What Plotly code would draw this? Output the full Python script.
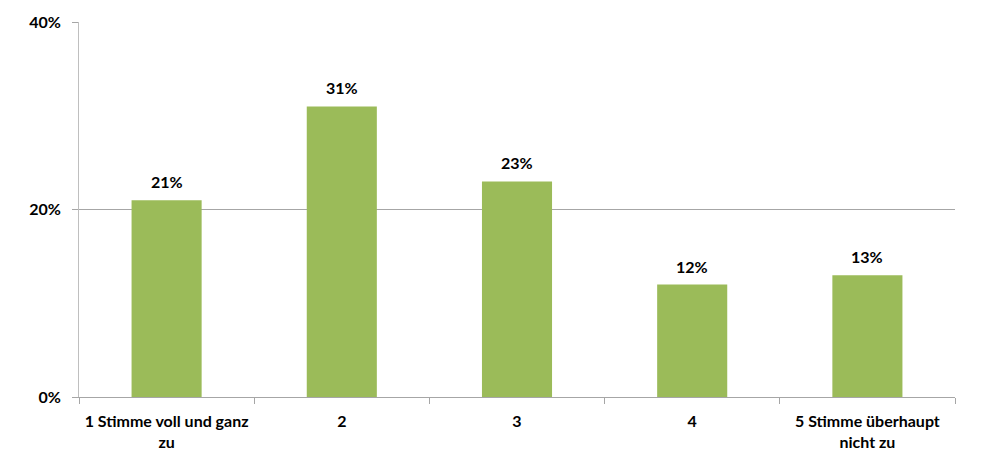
import plotly.graph_objects as go

categories = ["1 Stimme voll und ganz<br>zu", "2", "3", "4", "5 Stimme überhaupt<br>nicht zu"]
values = [21, 31, 23, 12, 13]
labels = ["21%", "31%", "23%", "12%", "13%"]
y_ticks = [0, 20, 40]
y_tick_labels = ["0%", "20%", "40%"]

font_family = "Lato, 'Open Sans', sans-serif"

fig = go.Figure(go.Bar(
    x=categories,
    y=values,
    marker=dict(color="#9BBB59", line=dict(width=0)),
    cliponaxis=False,
))

# annotation positions by category index (category axis)
for idx, (val, lab) in enumerate(zip(values, labels)):
    fig.add_annotation(
        x=idx, y=val, text=lab,
        showarrow=False, yanchor="bottom", yshift=7,
        font=dict(family=font_family, size=16, color="#000000", weight="bold"),
    )

fig.update_layout(
    width=1000,
    height=463,
    margin=dict(l=71, r=53, t=14, b=74, autoexpand=False),
    plot_bgcolor="white",
    paper_bgcolor="white",
    bargap=0.6,
    showlegend=False,
    font=dict(family=font_family, size=16, color="#000000", weight="bold"),
)

fig.update_yaxes(
    range=[0, 40],
    tickvals=y_ticks,
    ticktext=y_tick_labels,
    showgrid=True,
    gridcolor="#A6A6A6",
    gridwidth=1,
    showline=True,
    linecolor="#BFBFBF",
    linewidth=1,
    ticks="outside",
    ticklen=6,
    tickcolor="#A6A6A6",
    zeroline=False,
    automargin=False,
    ticklabelstandoff=8,
    tickfont=dict(family=font_family, size=16, color="#000000", weight="bold"),
)

fig.update_xaxes(
    type="category",
    showline=True,
    linecolor="#A6A6A6",
    linewidth=1,
    ticks="outside",
    tickson="boundaries",
    ticklen=6,
    tickcolor="#A6A6A6",
    showgrid=False,
    automargin=False,
    ticklabelstandoff=10,
    tickfont=dict(family=font_family, size=16, color="#000000", weight="bold"),
)

fig.write_html("out.html")
